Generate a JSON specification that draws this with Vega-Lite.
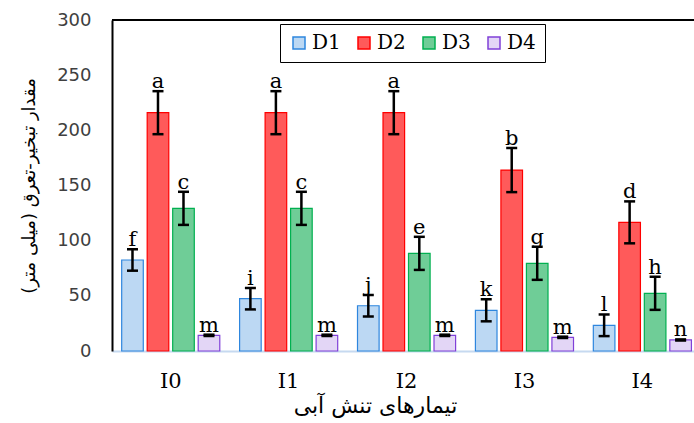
{
  "$schema": "https://vega.github.io/schema/vega-lite/v6.json",
  "width": 582,
  "height": 331,
  "autosize": {"type": "none"},
  "padding": {"left": 112, "top": 20, "right": 0, "bottom": 72},
  "background": "white",
  "config": {
    "view": {"stroke": null},
    "axis": {"grid": false},
    "axisX": {
      "labelFont": "DejaVu Serif",
      "labelFontSize": 21,
      "labelColor": "black",
      "labelPadding": 19,
      "labelAngle": 0,
      "ticks": false,
      "tickSize": 0,
      "domainColor": "#c6d9f0",
      "domainWidth": 2,
      "titleFont": "DejaVu Sans",
      "titleFontSize": 22,
      "titleFontWeight": "normal",
      "titleColor": "black",
      "titlePadding": 4
    },
    "axisY": {
      "labelFont": "DejaVu Sans",
      "labelFontSize": 18,
      "labelColor": "#404040",
      "labelPadding": 21,
      "ticks": false,
      "tickSize": 0,
      "domainColor": "black",
      "domainWidth": 2,
      "titleFont": "DejaVu Sans",
      "titleFontSize": 18,
      "titleFontWeight": "normal",
      "titleColor": "black",
      "titlePadding": 18
    }
  },
  "data": {
    "values": [
      {"group": "I0", "series": "D1", "value": 82.5, "lo": 72.8, "hi": 92.2, "letter": "f"},
      {"group": "I0", "series": "D2", "value": 216, "lo": 196.5, "hi": 235.5, "letter": "a"},
      {"group": "I0", "series": "D3", "value": 129.3, "lo": 114.3, "hi": 144.3, "letter": "c"},
      {"group": "I0", "series": "D4", "value": 14.2, "lo": 13.6, "hi": 14.8, "letter": "m"},
      {"group": "I1", "series": "D1", "value": 47.4, "lo": 37.7, "hi": 57.1, "letter": "i"},
      {"group": "I1", "series": "D2", "value": 216, "lo": 196.5, "hi": 235.5, "letter": "a"},
      {"group": "I1", "series": "D3", "value": 129.3, "lo": 114.3, "hi": 144.3, "letter": "c"},
      {"group": "I1", "series": "D4", "value": 14.2, "lo": 13.6, "hi": 14.8, "letter": "m"},
      {"group": "I2", "series": "D1", "value": 41, "lo": 31.3, "hi": 50.7, "letter": "j"},
      {"group": "I2", "series": "D2", "value": 216, "lo": 196.5, "hi": 235.5, "letter": "a"},
      {"group": "I2", "series": "D3", "value": 88.5, "lo": 73.5, "hi": 103.5, "letter": "e"},
      {"group": "I2", "series": "D4", "value": 14.2, "lo": 13.6, "hi": 14.8, "letter": "m"},
      {"group": "I3", "series": "D1", "value": 36.9, "lo": 26.9, "hi": 46.9, "letter": "k"},
      {"group": "I3", "series": "D2", "value": 164, "lo": 144, "hi": 184, "letter": "b"},
      {"group": "I3", "series": "D3", "value": 79.5, "lo": 64.5, "hi": 94.5, "letter": "g"},
      {"group": "I3", "series": "D4", "value": 12.4, "lo": 11.8, "hi": 13, "letter": "m"},
      {"group": "I4", "series": "D1", "value": 23.3, "lo": 13.5, "hi": 33.1, "letter": "l"},
      {"group": "I4", "series": "D2", "value": 116.6, "lo": 97.6, "hi": 135.6, "letter": "d"},
      {"group": "I4", "series": "D3", "value": 52.3, "lo": 37.3, "hi": 67.3, "letter": "h"},
      {"group": "I4", "series": "D4", "value": 10, "lo": 9.5, "hi": 10.5, "letter": "n"}
    ]
  },
  "layer": [
    {
      "data": {"values": [{"top": 300}]},
      "mark": {"type": "rule", "color": "black", "strokeWidth": 2},
      "encoding": {
        "y": {"field": "top", "type": "quantitative", "title": "مقدار تبخیر-تعرق (میلی متر)"}
      }
    },
    {
      "mark": {"type": "bar", "strokeWidth": 1.2},
      "encoding": {
        "x": {
          "field": "group",
          "type": "nominal",
          "title": "تیمارهای تنش آبی",
          "scale": {"paddingInner": 0.168, "paddingOuter": 0.052, "align": 0.79, "round": false},
          "axis": {"titleX": 263}
        },
        "xOffset": {
          "field": "series",
          "type": "nominal",
          "scale": {"paddingInner": 0.153, "paddingOuter": 0}
        },
        "y": {
          "field": "value",
          "type": "quantitative",
          "title": "مقدار تبخیر-تعرق (میلی متر)",
          "scale": {"domain": [0, 300], "nice": false, "zero": true},
          "axis": {"values": [0, 50, 100, 150, 200, 250, 300]}
        },
        "fill": {
          "field": "series",
          "type": "nominal",
          "title": null,
          "scale": {"range": ["#bcd8f3", "#ff5a5a", "#6fcd97", "#e3d6f6"]},
          "legend": {
            "orient": "none",
            "legendX": 168,
            "legendY": 4,
            "direction": "horizontal",
            "columns": 4,
            "symbolType": "square",
            "symbolSize": 144,
            "symbolStrokeWidth": 1.5,
            "labelFont": "DejaVu Serif",
            "labelFontSize": 20,
            "labelColor": "black",
            "labelOffset": 3,
            "columnPadding": 13,
            "padding": 9,
            "strokeColor": "black",
            "fillColor": "white"
          }
        },
        "stroke": {
          "field": "series",
          "type": "nominal",
          "title": null,
          "scale": {"range": ["#2e86de", "#ff0000", "#00b050", "#8040d8"]}
        }
      }
    },
    {
      "mark": {"type": "rule", "color": "black", "strokeWidth": 2.5},
      "encoding": {
        "x": {"field": "group", "type": "nominal", "title": "تیمارهای تنش آبی"},
        "xOffset": {"field": "series", "type": "nominal"},
        "y": {"field": "lo", "type": "quantitative", "title": "مقدار تبخیر-تعرق (میلی متر)"},
        "y2": {"field": "hi"}
      }
    },
    {
      "mark": {"type": "tick", "color": "black", "thickness": 2.5, "size": 11, "opacity": 1},
      "encoding": {
        "x": {"field": "group", "type": "nominal", "title": "تیمارهای تنش آبی"},
        "xOffset": {"field": "series", "type": "nominal"},
        "y": {"field": "lo", "type": "quantitative", "title": "مقدار تبخیر-تعرق (میلی متر)"}
      }
    },
    {
      "mark": {"type": "tick", "color": "black", "thickness": 2.5, "size": 11, "opacity": 1},
      "encoding": {
        "x": {"field": "group", "type": "nominal", "title": "تیمارهای تنش آبی"},
        "xOffset": {"field": "series", "type": "nominal"},
        "y": {"field": "hi", "type": "quantitative", "title": "مقدار تبخیر-تعرق (میلی متر)"}
      }
    },
    {
      "mark": {"type": "text", "font": "DejaVu Serif", "fontSize": 21, "baseline": "alphabetic", "dy": -3, "color": "black"},
      "encoding": {
        "x": {"field": "group", "type": "nominal", "title": "تیمارهای تنش آبی"},
        "xOffset": {"field": "series", "type": "nominal"},
        "y": {"field": "hi", "type": "quantitative", "title": "مقدار تبخیر-تعرق (میلی متر)"},
        "text": {"field": "letter"}
      }
    }
  ]
}
